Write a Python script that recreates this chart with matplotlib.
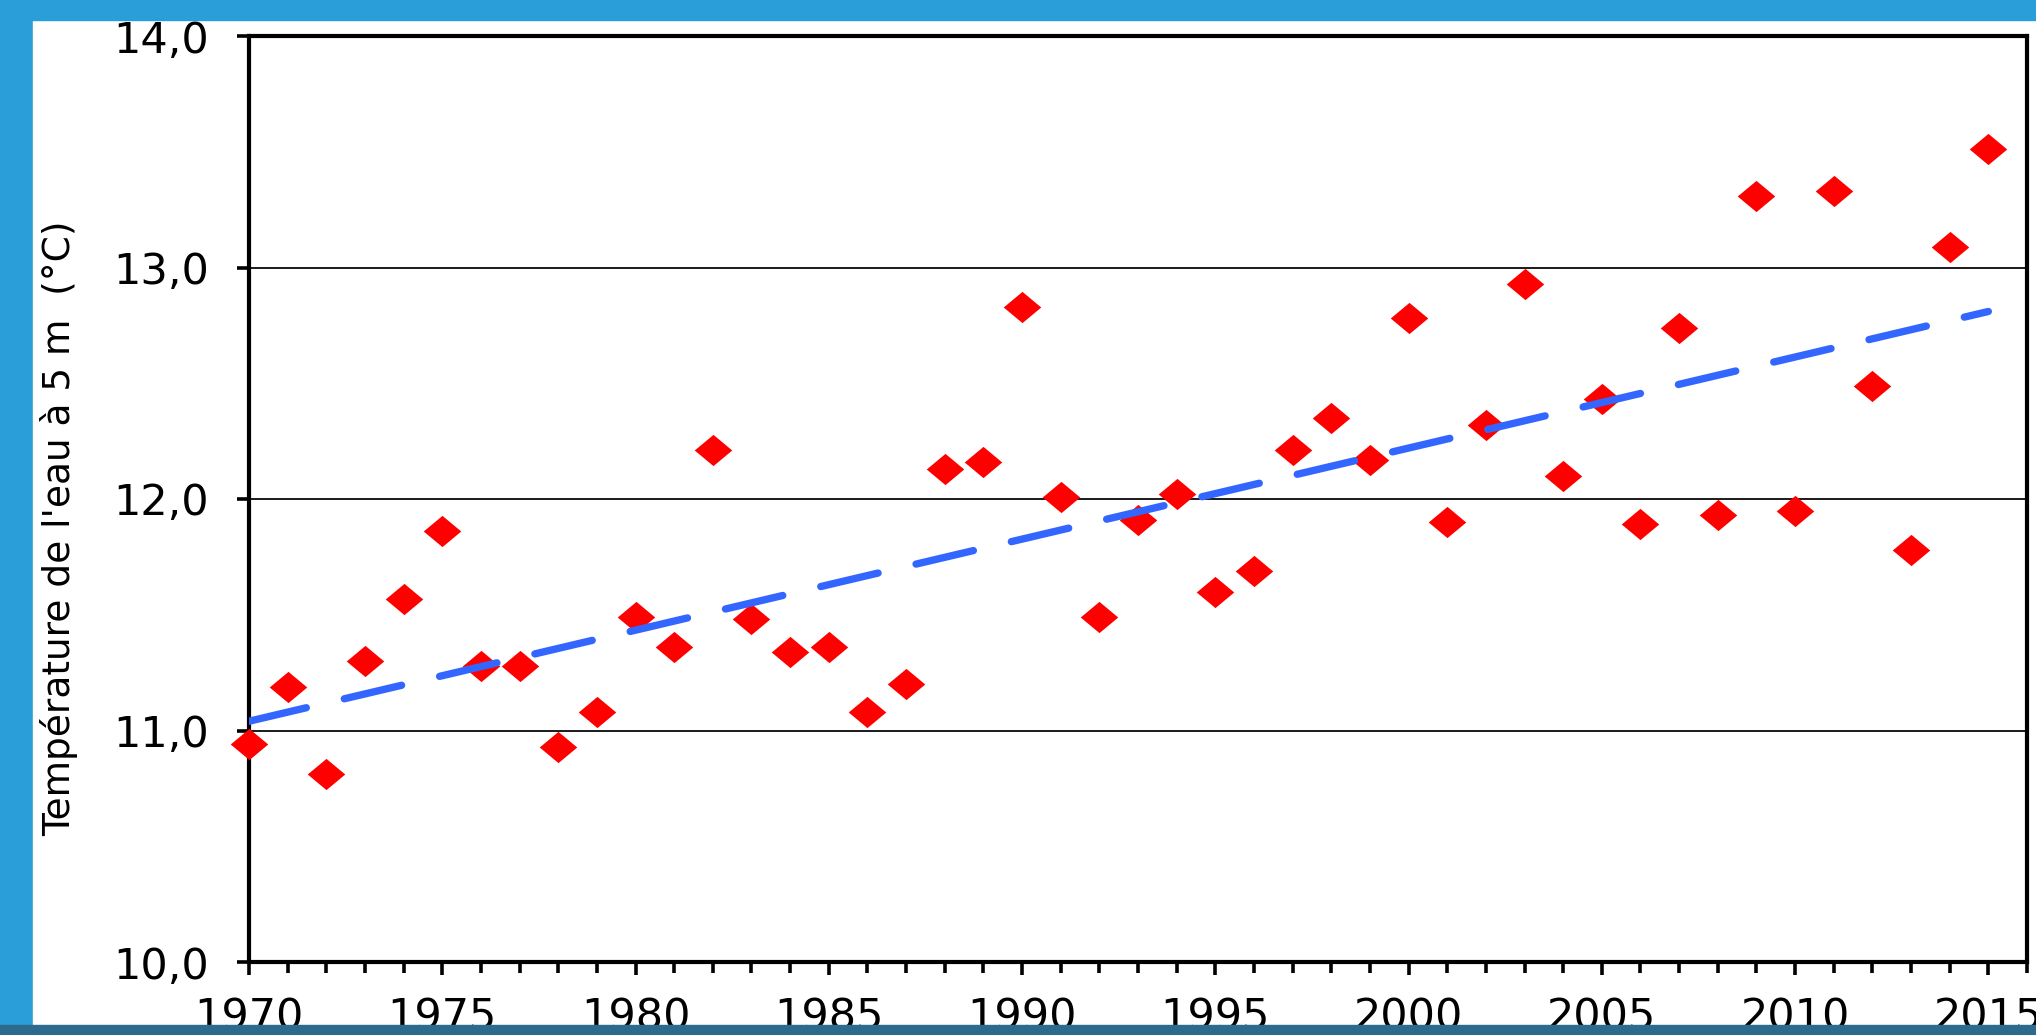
import matplotlib
matplotlib.use("Agg")
import matplotlib.pyplot as plt
from matplotlib.patches import Rectangle

# Water temperature at 5 m, yearly values
years = list(range(1970, 2016))
temps = [10.94, 11.19, 10.81, 11.30, 11.57, 11.86, 11.28, 11.28, 10.93, 11.08,
         11.49, 11.36, 12.21, 11.48, 11.34, 11.36, 11.08, 11.20, 12.13, 12.16,
         12.83, 12.01, 11.49, 11.91, 12.02, 11.60, 11.69, 12.21, 12.35, 12.17,
         12.78, 11.90, 12.32, 12.93, 12.10, 12.43, 11.89, 12.74, 11.93, 13.31,
         11.95, 13.33, 12.49, 11.78, 13.09, 13.51]

# linear trend (end points as drawn)
trend_years = [1970, 2015]
trend_vals = [11.04, 12.81]

y_ticks = [10.0, 11.0, 12.0, 13.0, 14.0]
y_tick_labels = ["10,0", "11,0", "12,0", "13,0", "14,0"]
x_ticks = list(range(1970, 2016, 5))
x_tick_labels = [str(y) for y in x_ticks]

plt.rcParams['font.family'] = ['DejaVu Sans']

W, H = 2036, 1035
fig = plt.figure(figsize=(W / 100, H / 100), dpi=100)
fig.patch.set_facecolor('#299ED8')

# white panel and blue border strips
fig.add_artist(Rectangle((33 / W, 10 / H), 1 - 33 / W, 1005 / H,
                         transform=fig.transFigure, color='white', zorder=-1))
fig.add_artist(Rectangle((0, 0), 1, 10 / H, transform=fig.transFigure,
                         color='#2D6B8E', zorder=10))
fig.add_artist(Rectangle((0, 1015 / H), 1, 20 / H, transform=fig.transFigure,
                         color='#299ED8', zorder=10))

ax = fig.add_axes([249 / W, (H - 962) / H, 1778 / W, 926 / H])
ax.set_facecolor('white')

# diamond a bit wider than tall
diamond = [(-1.2, 0), (0, 1), (1.2, 0), (0, -1)]
ax.plot(years, temps, linestyle='none', marker=diamond, ms=27,
        color='#FF0000', mew=0, zorder=4, clip_on=False)

ax.plot(trend_years, trend_vals, color='#3366FF', lw=5.3, dashes=(8.0, 5.3),
        dash_capstyle='round', zorder=5)

ax.set_xlim(1970, 2016)
ax.set_ylim(10, 14)
ax.set_xticks(x_ticks)
ax.set_xticklabels(x_tick_labels)
ax.set_xticks(range(1970, 2017), minor=True)
ax.set_yticks(y_ticks)
ax.set_yticklabels(y_tick_labels)

ax.tick_params(axis='x', which='major', direction='out', length=9, width=2.6,
               pad=16, labelsize=31, color='black')
ax.tick_params(axis='x', which='minor', direction='out', length=8, width=2.6)
ax.tick_params(axis='y', direction='out', length=9, width=2.6, pad=20,
               labelsize=31)

ax.yaxis.grid(True, color='#1a1a1a', lw=1.4)
ax.set_axisbelow(True)

for s in ax.spines.values():
    s.set_linewidth(3.0)
    s.set_color('black')

ax.set_ylabel("Température de l'eau à 5 m  (°C)", fontsize=27)
ax.yaxis.set_label_coords(-0.096, 0.4687)

fig.savefig("out.png", dpi=100, facecolor=fig.get_facecolor())
